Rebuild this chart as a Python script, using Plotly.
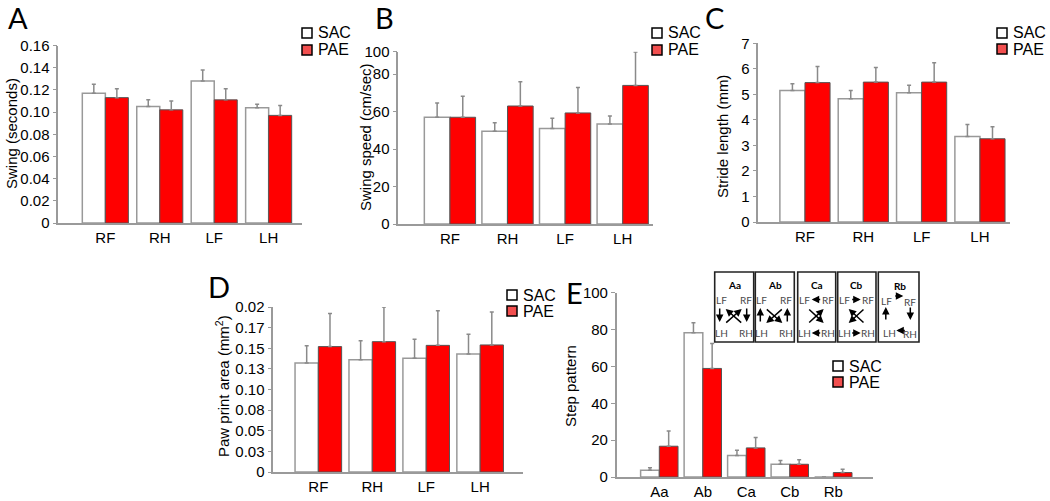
import plotly.graph_objects as go

# ---- data ----
limbs = ['RF', 'RH', 'LF', 'LH']
patterns = ['Aa', 'Ab', 'Ca', 'Cb', 'Rb']

swing_sac = [0.117, 0.105, 0.128, 0.104]
swing_sac_err = [0.008, 0.006, 0.010, 0.003]
swing_pae = [0.113, 0.102, 0.111, 0.097]
swing_pae_err = [0.008, 0.008, 0.010, 0.009]

speed_sac = [57.0, 49.5, 51.0, 53.4]
speed_sac_err = [7.6, 4.6, 5.5, 4.3]
speed_pae = [57.0, 63.0, 59.3, 74.0]
speed_pae_err = [11.2, 13.0, 13.6, 17.9]

stride_sac = [5.15, 4.83, 5.06, 3.35]
stride_sac_err = [0.27, 0.32, 0.30, 0.47]
stride_pae = [5.46, 5.48, 5.48, 3.26]
stride_pae_err = [0.63, 0.57, 0.76, 0.47]

paw_sac = [0.132, 0.136, 0.138, 0.143]
paw_sac_err = [0.021, 0.023, 0.023, 0.024]
paw_pae = [0.152, 0.158, 0.1535, 0.154]
paw_pae_err = [0.040, 0.042, 0.042, 0.040]

step_sac = [3.6, 78.3, 11.6, 6.9, 0]
step_sac_err = [1.4, 5.4, 2.9, 2.0, 0]
step_pae = [16.7, 58.9, 15.8, 6.9, 2.4]
step_pae_err = [8.3, 13.6, 5.6, 2.5, 1.8]

swing_ticks = [0, 0.02, 0.04, 0.06, 0.08, 0.10, 0.12, 0.14, 0.16]
swing_ticktext = ['0', '0.02', '0.04', '0.06', '0.08', '0.10', '0.12', '0.14', '0.16']
speed_ticks = [0, 20, 40, 60, 80, 92]
speed_ticktext = ['0', '20', '40', '60', '80', '100']
paw_ticks = [0, 0.025, 0.05, 0.075, 0.10, 0.125, 0.15, 0.175, 0.20]
paw_ticktext = ['0', '0.03', '0.05', '0.08', '0.10', '0.13', '0.15', '0.17', '0.02']

W, H = 1050, 501
FONT = 'Liberation Sans'
AXIS_GREY = '#9a9a9a'


def px(x):
    return x / W


def py(y):
    return 1 - y / H


def main():
    fig = go.Figure()

    # (panel id, categories, sac, sac err, pae, pae err, bar width)
    panels = [
        ('', limbs, swing_sac, swing_sac_err, swing_pae, swing_pae_err, 0.423),
        ('2', limbs, speed_sac, speed_sac_err, speed_pae, speed_pae_err, 0.445),
        ('3', limbs, stride_sac, stride_sac_err, stride_pae, stride_pae_err, 0.43),
        ('4', limbs, paw_sac, paw_sac_err, paw_pae, paw_pae_err, 0.432),
        ('5', patterns, step_sac, step_sac_err, step_pae, step_pae_err, 0.43),
    ]

    for pid, cats, sac, sac_e, pae, pae_e, w in panels:
        fig.add_trace(go.Bar(
            x=cats, y=sac, width=w, offset=-w,
            marker=dict(color='white', line=dict(color='#999999', width=1.5)),
            error_y=dict(type='data', array=sac_e, arrayminus=[0] * len(sac_e),
                         symmetric=False, color='#8a8a8a', thickness=1.5, width=2),
            xaxis='x' + pid, yaxis='y' + pid, name='SAC'))
        fig.add_trace(go.Bar(
            x=cats, y=pae, width=w, offset=0,
            marker=dict(color='#ff0000', line=dict(color='#555555', width=1)),
            error_y=dict(type='data', array=pae_e, arrayminus=[0] * len(pae_e),
                         symmetric=False, color='#8a8a8a', thickness=1.5, width=2),
            xaxis='x' + pid, yaxis='y' + pid, name='PAE'))

    # pixel boxes of each plot area: x0, x1, y_top, y_bottom
    boxes = {
        '': (58.3, 301.7, 45.5, 223),
        '2': (398.3, 653, 51.7, 224),
        '3': (758.3, 1010, 43.3, 222),
        '4': (273.3, 523.3, 307, 472),
        '5': (616.7, 873.3, 292.7, 477),
    }
    xranges = {
        '': [-0.864, 3.607],
        '2': [-0.897, 3.526],
        '3': [-0.80, 3.515],
        '4': [-0.835, 3.80],
        '5': [-0.98, 4.92],
    }
    yranges = {'': [0, 0.16], '2': [0, 92], '3': [0, 7], '4': [0, 0.2], '5': [0, 100]}

    tickfont = dict(family=FONT, size=15, color='black')
    layout = {}
    for pid, (x0, x1, yt, yb) in boxes.items():
        xa = dict(domain=[px(x0), px(x1)], anchor='y' + pid, range=xranges[pid],
                  type='category', showline=True, linecolor=AXIS_GREY, linewidth=1.5,
                  ticks='', showgrid=False, zeroline=False, tickfont=tickfont,
                  automargin=False, fixedrange=True)
        ya = dict(domain=[py(yb), py(yt)], anchor='x' + pid, range=yranges[pid],
                  showline=True, linecolor=AXIS_GREY, linewidth=1.5, ticks='outside',
                  ticklen=4, tickcolor=AXIS_GREY, tickwidth=1.2, showgrid=False,
                  zeroline=False, tickfont=tickfont, automargin=False, fixedrange=True)
        layout['xaxis' + pid] = xa
        layout['yaxis' + pid] = ya

    layout['yaxis'].update(tickvals=swing_ticks, ticktext=swing_ticktext)
    layout['yaxis2'].update(tickvals=speed_ticks, ticktext=speed_ticktext)
    layout['yaxis3'].update(dtick=1)
    layout['yaxis4'].update(tickvals=paw_ticks, ticktext=paw_ticktext)
    layout['yaxis5'].update(dtick=20)

    annotations = []
    shapes = []

    def text_at(text, x, y, size, family=FONT, color='black', angle=0, xanchor='center'):
        annotations.append(dict(text=text, x=px(x), y=py(y), xref='paper', yref='paper',
                                xanchor=xanchor, yanchor='middle', textangle=angle,
                                showarrow=False,
                                font=dict(family=family, size=size, color=color)))

    # axis titles
    titles = [
        ('Swing (seconds)', 12, 134),
        ('Swing speed (cm/sec)', 365, 137),
        ('Stride length (mm)', 722, 137),
        ('Paw print area (mm<sup>2</sup>)', 222, 386),
        ('Step pattern', 570, 386),
    ]
    for text, x, y in titles:
        text_at(text, x, y, 15, angle=-90)

    # panel letters
    for text, x, y in [('A', 18, 18), ('B', 384, 18), ('C', 714, 18),
                       ('D', 219, 286), ('E', 574, 292)]:
        text_at(text, x, y, 29, family='Lato')

    # legends (box center x, SAC y, PAE y)
    for lx, ly1, ly2 in [(307, 33, 50), (657, 33, 50), (1002, 33, 49),
                         (512, 295, 311), (838, 366, 382)]:
        for ly, fill, label in [(ly1, 'white', 'SAC'), (ly2, '#f24f4f', 'PAE')]:
            shapes.append(dict(type='rect', xref='paper', yref='paper',
                               x0=px(lx - 5), x1=px(lx + 5), y0=py(ly + 5), y1=py(ly - 5),
                               line=dict(color='black', width=1.5), fillcolor=fill))
            text_at(label, lx + 9, ly, 16, xanchor='left')

    # step pattern inset diagrams
    inset_x = [714.7, 755.3, 797.7, 837.7, 878.3]
    inset_w = [39, 39, 38, 38.3, 40.7]
    top, bot = 272, 342

    def arrow(x0, y0, x1, y1):
        # tiny font + no padding so the head lands exactly on (x1, y1)
        annotations.append(dict(text='', x=px(x1), y=py(y1), xref='paper', yref='paper',
                                ax=x0 - x1, ay=y0 - y1, axref='pixel', ayref='pixel',
                                showarrow=True, arrowhead=2, arrowsize=1.0,
                                arrowwidth=1.5, arrowcolor='black', standoff=0,
                                borderpad=0, font=dict(size=1)))

    def label(text, x, y, bold=False, color='#4a4a4a'):
        text_at('<b>%s</b>' % text if bold else text, x, y, 10, family='Lato', color=color)

    for name, bx, bw in zip(patterns, inset_x, inset_w):
        shapes.append(dict(type='rect', xref='paper', yref='paper',
                           x0=px(bx), x1=px(bx + bw), y0=py(bot), y1=py(top),
                           line=dict(color='#222222', width=1.6), fillcolor='white'))
        if name == 'Rb':
            label(name, bx + 21.7, top + 14, bold=True, color='black')
            label('LF', bx + 8.3, top + 28.5)
            label('RF', bx + 32, top + 29.5)
            label('LH', bx + 11, top + 61)
            label('RH', bx + 32, top + 62)
        else:
            label(name, bx + bw / 2, top + 13, bold=True, color='black')
            label('LF', bx + 6.5, top + 27.5)
            label('RF', bx + bw - 8, top + 27.5)
            label('LH', bx + 6.5, top + 61)
            label('RH', bx + bw - 8, top + 61)

        L, R = bx + 5, bx + bw - 7
        dl, dr = bx + 11, bx + bw - 12
        if name == 'Aa':
            arrow(L, top + 36, L, top + 50)
            arrow(R, top + 36, R, top + 50)
            arrow(dl, top + 51, dr, top + 37)
            arrow(dr, top + 51, dl, top + 37)
        elif name == 'Ab':
            arrow(L, top + 50, L, top + 36)
            arrow(R, top + 50, R, top + 36)
            arrow(dr, top + 37, dl, top + 51)
            arrow(dl, top + 37, dr, top + 51)
        elif name == 'Ca':
            arrow(bx + 23, top + 27.5, bx + 14, top + 27.5)
            arrow(bx + 23, top + 61, bx + 14, top + 61)
            arrow(dl, top + 37, dr, top + 51)
            arrow(dl, top + 51, dr, top + 37)
        elif name == 'Cb':
            arrow(bx + 14, top + 27.5, bx + 23, top + 27.5)
            arrow(bx + 14, top + 61, bx + 23, top + 61)
            arrow(dr, top + 37, dl, top + 51)
            arrow(dr, top + 51, dl, top + 37)
        else:
            arrow(bx + 16.5, top + 24, bx + 25, top + 24)
            arrow(bx + 32, top + 35, bx + 32, top + 48)
            arrow(bx + 27, top + 58.5, bx + 18, top + 58.5)
            arrow(bx + 7.5, top + 48, bx + 7.5, top + 35)

    fig.update_layout(
        width=W, height=H,
        margin=dict(l=0, r=0, t=0, b=0, autoexpand=False),
        paper_bgcolor='white', plot_bgcolor='white',
        showlegend=False, barmode='overlay',
        annotations=annotations, shapes=shapes,
        **layout
    )

    # the page body has a default 8px margin; drop it so the figure sits at 0,0
    fig.write_html('out.html', config={'displayModeBar': False},
                   post_script="document.body.style.margin='0px';")


if __name__ == '__main__':
    main()
